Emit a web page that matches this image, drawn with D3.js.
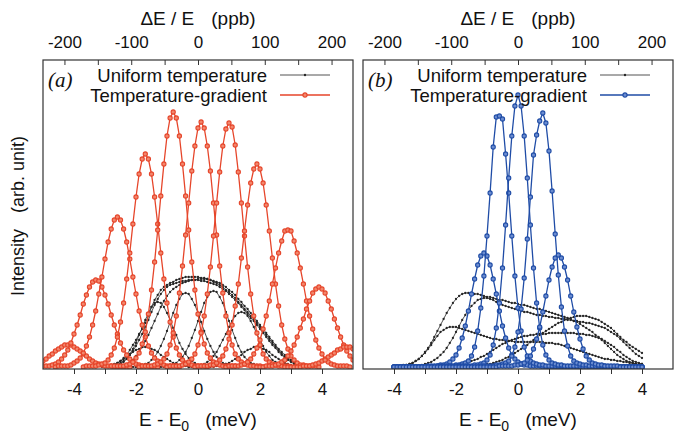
<!DOCTYPE html>
<html>
<head>
<meta charset="utf-8">
<script src="https://cdn.jsdelivr.net/npm/d3@7"></script>
<style>
  html, body { margin: 0; padding: 0; background: #fff; }
  svg { display: block; font-family: "Liberation Sans", Arial, Helvetica, sans-serif; }
</style>
</head>
<body>
<svg id="chart" width="686" height="436"></svg>
<script>
// Energy step of every scan (meV) and resonance energy for the relative axis
const STEP = 0.1;
const E0_KEV = 21.54;

const bottomTicks = [-4, -3, -2, -1, 0, 1, 2, 3, 4];
const bottomLabels = [-4, -2, 0, 2, 4];
const topTicks = [-200, -150, -100, -50, 0, 50, 100, 150, 200];
const topLabels = [-200, -100, 0, 100, 200];

// ---- Panel (a) ----
// temperature-gradient scans: first energy (meV) and intensities every STEP
const gradientStartA = [-5.0, -5.0, -4.6, -3.7, -2.8, -1.9, -1.0, -0.1, 0.9, 1.9, 2.8];
const gradientA = [
  [6,8,11,13,16,18,20,22,22,22,20,18,16,13,11,8,6,4,3,2,1,1,1,0,0,0,0,0,0],
  [1,1,1,2,3,5,8,12,17,24,33,42,52,63,72,80,85,87,86,80,72,63,52,42,33,24,17,12,8,5,3,2,1,1,1,0,0,0],
  [0,1,1,1,1,2,4,6,9,14,21,30,42,56,73,90,108,125,138,147,150,147,138,125,108,90,73,56,42,30,21,14,9,6,4,2,1,1,1,1,0],
  [0,1,1,1,1,2,3,4,7,12,19,30,45,64,88,114,143,170,193,208,213,208,193,170,143,114,88,64,45,30,19,12,7,4,3,2,1,1,1,1,0],
  [1,1,1,1,1,2,3,5,9,14,23,35,53,77,105,137,171,203,231,249,255,249,231,203,171,137,105,77,53,35,23,14,9,5,3,2,1,1,1,1,1],
  [0,1,1,1,1,2,3,5,8,13,22,34,51,74,101,132,164,196,221,239,245,239,221,196,164,132,101,74,51,34,22,13,8,5,3,2,1,1,1,1,0],
  [0,1,1,1,1,2,3,5,8,13,22,34,51,73,100,131,164,195,221,238,244,240,222,195,164,131,100,73,51,34,22,13,8,5,3,2,1,1,1,1,0],
  [0,1,1,1,1,2,2,4,7,11,18,28,42,61,83,109,136,162,184,198,203,198,184,162,136,109,83,61,42,28,18,11,7,4,2,2,1,1,1,1,0],
  [0,1,1,1,1,2,3,5,8,13,19,27,38,51,66,83,99,114,126,136,137,136,126,114,99,83,66,51,38,27,19,13,8,5,3,2,1,1,1,1,0],
  [0,0,0,1,1,1,2,3,5,7,11,16,22,30,39,48,58,66,74,78,80,78,74,66,58,48,39,30,22,16,11,7],
  [0,0,0,0,0,0,1,1,1,2,3,4,6,7,10,12,14,17,18,20,20,20,18]
];

// uniform-temperature scans
const uniformStartA = [-2.8, -2.6, -2.4, -3.0, -2.1, -1.2, -0.3, -3.1, 0.5];
const uniformA = [
  [1,2,4,6,9,12,17,22,27,33,38,44,51,60,67,72,77,80,82,84,85,87,88,89,90,90,90,90,90,89,89,88,87,85,84,82,80,77,75,72,69,65,62,58,55,51,48,44,40,36,32,28,24,20,17,13,10,8,6,4,3,2,1,1,0],
  [1,3,5,8,12,16,21,27,33,40,47,55,62,68,73,77,80,82,83,84,85,86,86,87,87,87,87,86,86,85,84,83,82,80,78,76,73,70,67,64,60,57,53,49,46,42,38,34,30,26,22,19,15,12,9,7,5,3,2,1,1],
  [1,2,4,7,11,15,20,26,32,39,46,53,60,66,71,75,78,80,82,84,85,86,87,87,88,88,88,88,87,86,85,84,82,80,77,75,72,68,65,61,58,54,50,46,42,38,34,30,26,22,18,15,12,9,7,5,3,2,1],
  [0,0,1,1,2,4,6,9,13,18,24,32,39,47,54,60,64,65,64,60,54,47,39,32,24,18,13,9,6,4,2,1,1,0,0],
  [0,0,1,2,3,4,7,10,15,21,28,36,45,54,62,68,73,74,73,68,62,54,45,36,28,21,15,10,7,4,3,2,1,0,0],
  [0,0,1,2,3,4,7,10,15,21,29,37,46,55,64,70,75,76,75,70,64,55,46,37,29,21,15,10,7,4,3,2,1,0,0],
  [0,0,1,1,2,3,5,7,11,15,21,27,33,40,46,51,54,55,54,51,46,40,33,27,21,15,11,7,5,3,2,1,1,0,0],
  [0,1,1,2,3,4,6,8,10,12,15,17,18,20,20,20,18,17,15,12,10,8,6,4,3,2,1,1,0],
  [0,1,1,2,3,4,6,8,10,12,15,17,18,20,20,20,18,17,15,12,10,8,6,4,3,2,1,1,0]
];

// ---- Panel (b) ----  all scans run from -4 to 4 meV
const gradientStartB = [-4.0, -4.0, -4.0, -4.0, -4.0];
const gradientB = [
  [0,0,0,0,0,0,0,0,0,0,0,1,1,1,1,2,2,3,5,8,12,19,29,41,56,73,88,102,111,114,111,102,88,73,56,41,29,19,12,8,5,3,2,2,1,1,1,1,0,0,0,0,0,0,0,0,0,0,0,0,0,0,0,0,0,0,0,0,0,0,0,0,0,0,0,0,0,0,0,0,0],
  [0,0,0,0,0,0,0,0,0,0,0,0,0,0,1,1,1,1,1,1,2,2,3,4,6,11,20,36,59,91,131,174,220,250,251,248,213,174,131,91,59,36,20,11,6,4,3,2,2,1,1,1,1,1,1,0,0,0,0,0,0,0,0,0,0,0,0,0,0,0,0,0,0,0,0,0,0,0,0,0,0],
  [0,0,0,0,0,0,0,0,0,0,0,0,0,0,0,0,0,0,0,0,1,1,1,1,1,1,2,2,3,4,7,12,22,39,64,99,142,189,231,261,272,261,231,189,142,99,64,39,22,12,7,4,3,2,2,1,1,1,1,1,1,0,0,0,0,0,0,0,0,0,0,0,0,0,0,0,0,0,0,0,0],
  [0,0,0,0,0,0,0,0,0,0,0,0,0,0,0,0,0,0,0,0,0,0,0,0,0,0,0,0,1,1,1,1,1,2,2,3,4,6,11,20,35,58,89,128,170,212,232,246,254,244,216,176,133,92,60,36,21,11,6,4,3,2,2,1,1,1,1,1,1,0,0,0,0,0,0,0,0,0,0,0,0],
  [0,0,0,0,0,0,0,0,0,0,0,0,0,0,0,0,0,0,0,0,0,0,0,0,0,0,0,0,0,0,0,0,0,0,1,1,1,1,1,2,2,3,4,7,11,18,28,40,55,71,87,100,109,112,109,100,87,71,55,40,28,18,11,7,4,3,2,2,1,1,1,1,1,0,0,0,0,0,0,0,0]
];

const uniformStartB = [-4.0, -4.0, -4.0, -4.0, -4.0];
const uniformB = [
  [0,0,1,1,2,3,4,6,8,11,15,19,24,30,36,42,48,54,59,64,68,71,73,74,74,74,73,73,72,71,70,70,69,68,67,67,66,65,64,64,63,62,62,61,60,59,58,58,57,56,55,54,53,52,51,50,49,48,46,45,43,41,39,37,35,32,30,27,24,21,18,15,12,10,8,6,5,4,3,2,2],
  [0,0,0,0,0,0,1,1,1,2,3,4,5,7,9,12,15,19,24,29,35,41,47,52,57,61,64,67,68,69,69,68,67,65,64,62,61,60,59,58,57,56,55,55,54,53,52,52,51,51,50,50,49,49,48,48,47,47,46,46,45,45,44,44,43,42,41,40,39,37,35,33,31,28,25,22,19,16,13,11,9],
  [0,1,1,2,2,3,4,6,8,11,14,18,22,27,31,35,37,39,40,40,40,39,38,37,36,35,34,33,32,31,30,29,28,28,27,27,26,26,26,25,25,25,25,25,25,25,25,25,25,24,24,24,23,23,22,21,20,19,18,17,16,15,14,13,12,11,10,9,8,8,7,7,6,6,5,5,4,4,3,3,3],
  [0,0,0,0,0,0,0,0,0,0,0,0,0,0,0,0,1,1,1,2,2,3,3,4,5,6,7,8,10,11,13,15,17,19,21,23,24,26,27,28,29,30,31,31,32,32,33,33,33,33,34,34,34,34,34,34,34,34,34,33,33,33,32,32,31,30,29,28,26,24,22,20,17,15,12,10,8,6,5,4,3],
  [0,0,0,0,0,0,0,0,0,0,0,0,0,0,0,0,0,0,0,0,0,0,0,0,0,1,1,1,2,2,3,3,4,5,6,7,9,10,12,14,16,18,20,22,25,27,29,32,34,36,38,40,42,44,45,47,48,49,50,51,51,51,51,50,49,48,47,45,43,41,39,36,33,30,27,25,22,20,18,16,14]
];

const COLORS = { uniform: "#262626", red: "#e6452a", blue: "#1f4ca6" };

const svg = d3.select("#chart");
const H_TOP = 60, H_BOTTOM = 369;

function toPoints(start, values) {
  return values.map((v, i) => ({ e: Math.round((start + i * STEP) * 10) / 10, v }));
}

function drawPanel(cfg) {
  const x = d3.scaleLinear().domain([-5, 5]).range([cfg.left, cfg.right]);
  const y = d3.scaleLinear().domain([-2, 307]).range([H_BOTTOM, H_TOP]);
  const ppbMax = 5 / (E0_KEV * 1e6) * 1e9;
  const xTop = d3.scaleLinear().domain([-ppbMax, ppbMax]).range([cfg.left, cfg.right]);

  const clipId = "clip-" + cfg.id;
  svg.append("clipPath").attr("id", clipId)
    .append("rect").attr("x", cfg.left).attr("y", H_TOP)
    .attr("width", cfg.right - cfg.left).attr("height", H_BOTTOM - H_TOP);

  const data = svg.append("g").attr("clip-path", `url(#${clipId})`);
  const line = d3.line().x(d => x(d.e)).y(d => y(d.v));

  // uniform-temperature scans (thin black, small dots)
  cfg.uniformStarts.forEach((s, k) => {
    const pts = toPoints(s, cfg.uniform[k]);
    data.append("path").datum(pts).attr("d", line)
      .attr("fill", "none").attr("stroke", COLORS.uniform).attr("stroke-width", 0.8);
    data.append("g").selectAll("circle").data(pts).join("circle")
      .attr("cx", d => x(d.e)).attr("cy", d => y(d.v)).attr("r", 1.15)
      .attr("fill", COLORS.uniform);
  });

  // temperature-gradient scans (coloured, open circles)
  cfg.gradientStarts.forEach((s, k) => {
    const pts = toPoints(s, cfg.gradient[k]);
    data.append("path").datum(pts).attr("d", line)
      .attr("fill", "none").attr("stroke", cfg.color).attr("stroke-width", 1.3);
    data.append("g").selectAll("circle").data(pts).join("circle")
      .attr("cx", d => x(d.e)).attr("cy", d => y(d.v)).attr("r", 2.1)
      .attr("fill", cfg.fill).attr("stroke", cfg.color).attr("stroke-width", 1.1);
  });

  // frame
  svg.append("rect").attr("x", cfg.left).attr("y", H_TOP)
    .attr("width", cfg.right - cfg.left).attr("height", H_BOTTOM - H_TOP)
    .attr("fill", "none").attr("stroke", "#333").attr("stroke-width", 1.2);

  // bottom axis (meV), ticks outward
  const bottom = svg.append("g").attr("transform", `translate(0,${H_BOTTOM})`)
    .call(d3.axisBottom(x).tickValues(bottomTicks).tickSize(5)
      .tickFormat(d => bottomLabels.includes(d) ? String(d).replace("\u2212", "-") : ""));
  bottom.select(".domain").remove();
  bottom.selectAll(".tick line").attr("stroke", "#333").attr("stroke-width", 1);
  bottom.selectAll(".tick text").attr("font-size", 17).attr("fill", "#111")
    .attr("font-family", "Liberation Sans, Arial, sans-serif").attr("dy", "0.55em").attr("y", 17);

  // top axis (ppb), ticks inward
  const top = svg.append("g").attr("transform", `translate(0,${H_TOP})`)
    .call(d3.axisTop(xTop).tickValues(topTicks).tickSize(-5)
      .tickFormat(d => topLabels.includes(d) ? String(d) : ""));
  top.select(".domain").remove();
  top.selectAll(".tick line").attr("stroke", "#333").attr("stroke-width", 1);
  top.selectAll(".tick text").attr("font-size", 17).attr("fill", "#111")
    .attr("font-family", "Liberation Sans, Arial, sans-serif").attr("y", -12);

  const cx = (cfg.left + cfg.right) / 2;

  // top title
  const tt = svg.append("text").attr("x", cx).attr("y", 25).attr("text-anchor", "middle")
    .attr("font-size", 19).attr("fill", "#111");
  tt.append("tspan").text("\u0394E / E");
  tt.append("tspan").attr("dx", 17).text("(ppb)");

  // bottom title with subscript
  const bt = svg.append("text").attr("x", cx).attr("y", 426).attr("text-anchor", "middle")
    .attr("font-size", 19).attr("fill", "#111");
  bt.append("tspan").text("E - E");
  bt.append("tspan").attr("font-size", 14).attr("dy", 5).text("0");
  bt.append("tspan").attr("dy", -5).attr("dx", 16).text("(meV)");

  // panel tag
  svg.append("text").attr("x", cfg.left + 5).attr("y", 87)
    .attr("font-family", "Liberation Serif, 'DejaVu Serif', serif").attr("font-style", "italic")
    .attr("font-size", 21).attr("fill", "#111").text(cfg.tag);

  // legend
  const lx = cfg.right - 73;
  const rows = [
    { label: "Uniform temperature", y: 75, color: COLORS.uniform, w: 0.8, r: 1.2, fill: COLORS.uniform, sw: 0 },
    { label: "Temperature-gradient", y: 95, color: cfg.color, w: 1.3, r: 2.1, fill: cfg.fill, sw: 1.1 }
  ];
  rows.forEach(rw => {
    svg.append("text").attr("x", lx - 13).attr("y", rw.y + 6.5).attr("text-anchor", "end")
      .attr("font-size", 18.5).attr("fill", "#111").text(rw.label);
    svg.append("line").attr("x1", lx).attr("x2", lx + 50).attr("y1", rw.y).attr("y2", rw.y)
      .attr("stroke", rw.color).attr("stroke-width", rw.w);
    svg.append("circle").attr("cx", lx + 25).attr("cy", rw.y).attr("r", rw.r)
      .attr("fill", rw.fill).attr("stroke", rw.color).attr("stroke-width", rw.sw);
  });
}

drawPanel({ id: "a", left: 43, right: 353, tag: "(a)", color: COLORS.red, fill: "#f2866c",
  gradientStarts: gradientStartA, gradient: gradientA, uniformStarts: uniformStartA, uniform: uniformA });
drawPanel({ id: "b", left: 363, right: 673, tag: "(b)", color: COLORS.blue, fill: "#6b8cd0",
  gradientStarts: gradientStartB, gradient: gradientB, uniformStarts: uniformStartB, uniform: uniformB });

// shared vertical axis title
svg.append("text").attr("transform", "translate(24,216) rotate(-90)").attr("text-anchor", "middle")
  .attr("font-size", 18).attr("fill", "#111")
  .call(t => { t.append("tspan").text("Intensity"); t.append("tspan").attr("dx", 16).text("(arb. unit)"); });
</script>
</body>
</html>
